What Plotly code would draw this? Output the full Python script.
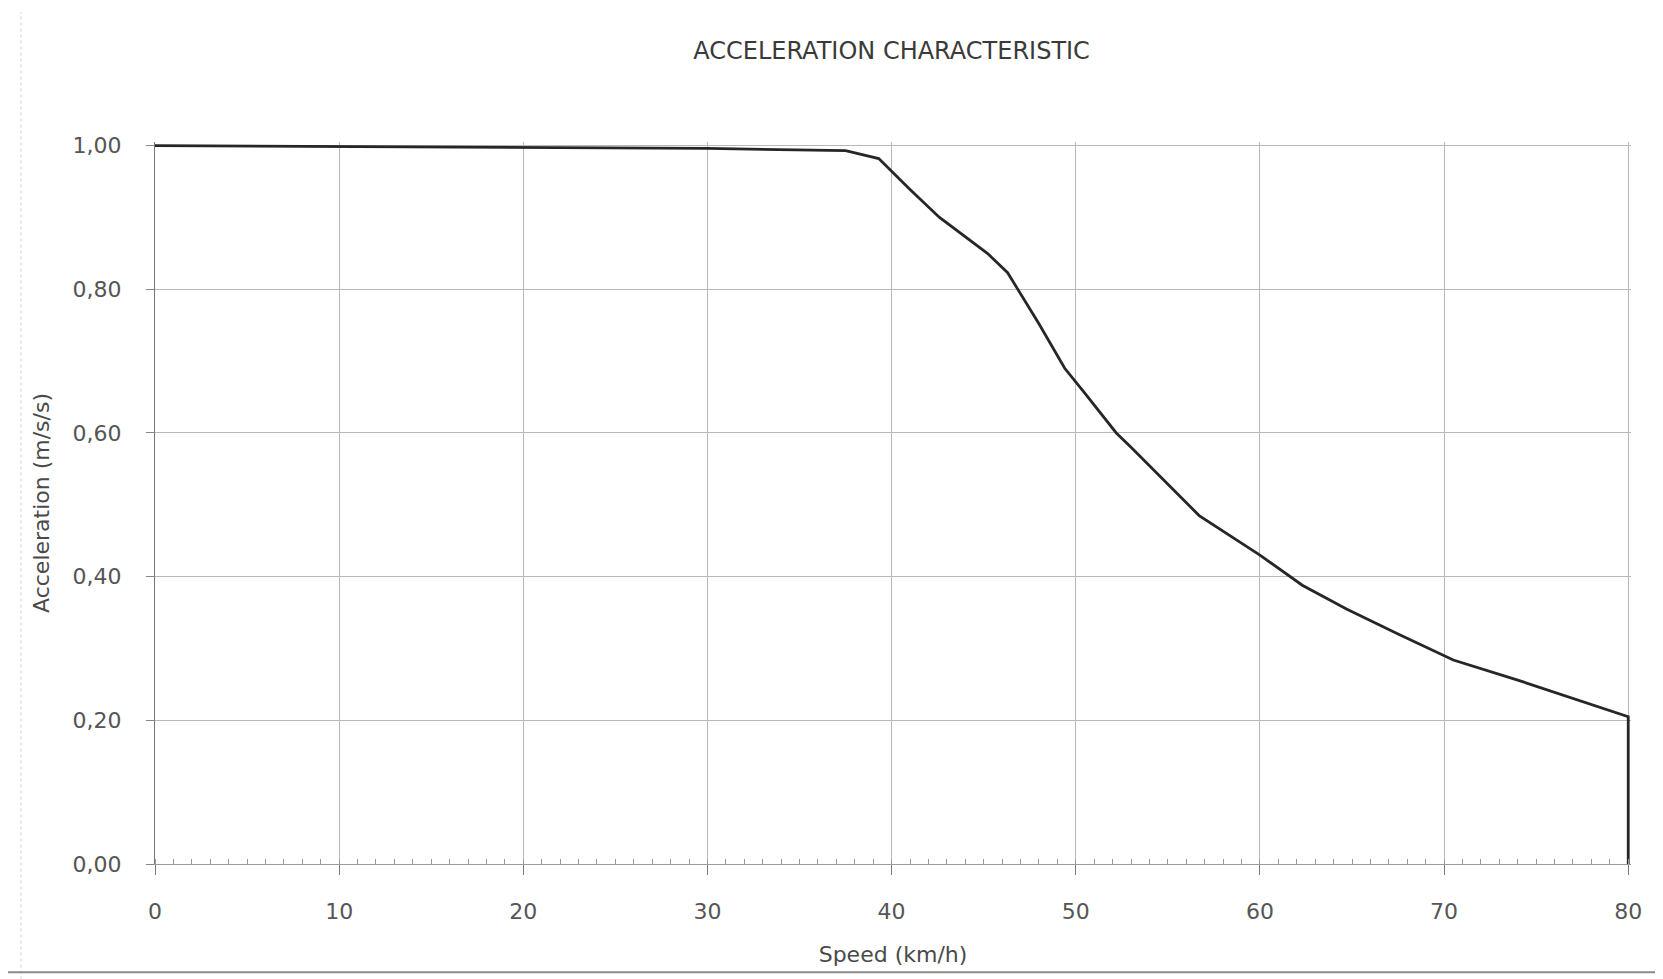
import plotly.graph_objects as go

# ---- data ----
speed_kmh = [0, 10, 20, 30, 37.5, 39.3, 41.0, 42.6, 45.2, 46.3, 48.0, 49.4, 50.5,
             52.2, 53.0, 56.0, 56.7, 60.0, 62.3, 64.7, 67.5, 70.5, 74.0, 80, 80]
accel_ms2 = [1.0, 0.999, 0.998, 0.996, 0.993, 0.982, 0.939, 0.90, 0.85, 0.823, 0.752,
             0.69, 0.655, 0.60, 0.58, 0.502, 0.485, 0.43, 0.388, 0.355, 0.32, 0.284,
             0.256, 0.205, 0.0]

x_tickvals = [0, 10, 20, 30, 40, 50, 60, 70, 80]
x_ticktext = ["0", "10", "20", "30", "40", "50", "60", "70", "80"]
y_tickvals = [0.0, 0.2, 0.4, 0.6, 0.8, 1.0]
y_ticktext = ["0,00", "0,20", "0,40", "0,60", "0,80", "1,00"]

title_text = "ACCELERATION CHARACTERISTIC"
x_title = "Speed (km/h)"
y_title = "Acceleration (m/s/s)"

FONT = "DejaVu Sans"
GRID = "#b8b8b8"

fig = go.Figure()
fig.add_trace(go.Scatter(
    x=speed_kmh, y=accel_ms2, mode="lines",
    line=dict(color="#262626", width=2.8),
    showlegend=False, hoverinfo="x+y",
))

fig.update_layout(
    width=1663, height=979,
    paper_bgcolor="white", plot_bgcolor="white",
    margin=dict(l=147, r=40, t=134, b=123, autoexpand=False),
    title=dict(text=title_text, x=0.5313, xanchor="center", y=0.956, yanchor="middle",
               font=dict(family=FONT, size=24, color="#3a3a3a")),
    font=dict(family=FONT, color="#555555"),
)

fig.update_xaxes(
    range=[0, 80.15], tickvals=x_tickvals, ticktext=x_ticktext,
    showgrid=True, gridcolor=GRID, gridwidth=1,
    showline=True, linecolor="#9a9a9a", linewidth=1,
    ticks="outside", ticklen=10, tickcolor="#777777", tickwidth=1,
    minor=dict(dtick=1, ticks="inside", ticklen=5, tickcolor="#9a9a9a", showgrid=False),
    tickfont=dict(family=FONT, size=22, color="#555555"),
    ticklabelstandoff=18,
    zeroline=False,
    title=dict(text=x_title, standoff=23, font=dict(family=FONT, size=22, color="#4a4a4a")),
    automargin=False,
)
fig.update_yaxes(
    range=[0, 1.005], tickvals=y_tickvals, ticktext=y_ticktext,
    showgrid=True, gridcolor=GRID, gridwidth=1,
    showline=True, linecolor="#777777", linewidth=1,
    ticks="outside", ticklen=8, tickcolor="#888888", tickwidth=1,
    tickfont=dict(family=FONT, size=22, color="#555555"),
    ticklabelstandoff=20,
    zeroline=False,
    title=dict(text=y_title, standoff=16, font=dict(family=FONT, size=22, color="#4a4a4a")),
    automargin=False,
)

# faint scan-border artefacts (page edges)
fig.add_shape(type="line", xref="paper", yref="paper", x0=-0.0908, x1=-0.0908, y0=-0.16, y1=1.18,
              line=dict(color="#cfcfcf", width=1, dash="dot"))
fig.add_shape(type="line", xref="paper", yref="paper", x0=-0.1, x1=1.03, y0=-0.150, y1=-0.150,
              line=dict(color="#8a8a8a", width=2))

fig.write_html("out.html")
